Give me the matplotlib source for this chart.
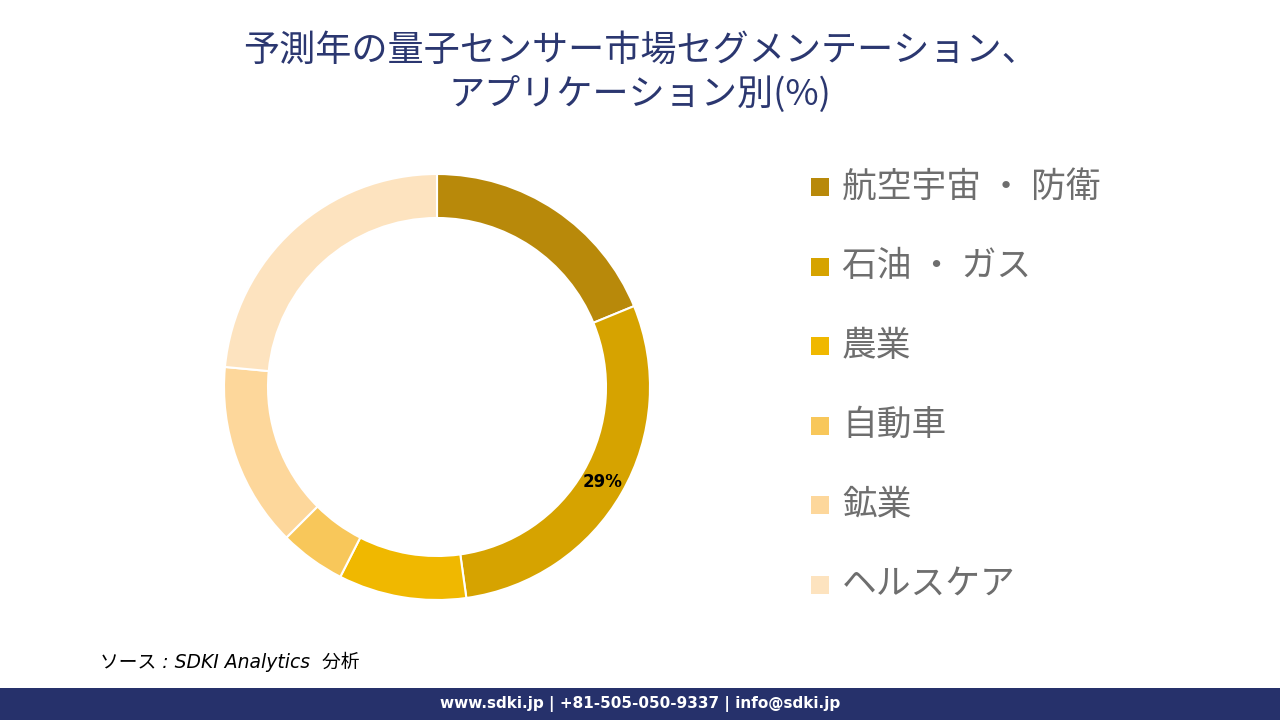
import numpy as np
import matplotlib.pyplot as plt
from matplotlib.patches import Rectangle

plt.rcParams['font.family'] = ['Noto Sans CJK JP', 'DejaVu Sans']

# data
categories = ['航空宇宙・防衛', '石油・ガス', '農業', '自動車', '鉱業', 'ヘルスケア']
legend_labels = ['航空宇宙 ・ 防衛', '石油 ・ ガス', '農業', '自動車', '鉱業', 'ヘルスケア']
shares = [18.8, 29, 9.7, 5, 14, 23.5]
colors = ['#B8890A', '#D6A300', '#F0B800', '#F8C75A', '#FDD79B', '#FDE3BF']
shown_label = '石油・ガス'

title_text = '予測年の量子センサー市場セグメンテーション、\nアプリケーション別(%)'
source_text = 'ソース : SDKI Analytics  分析'
footer_text = 'www.sdki.jp | +81-505-050-9337 | info@sdki.jp'

W, H = 1280, 720
fig = plt.figure(figsize=(W / 100, H / 100), dpi=100)
fig.patch.set_facecolor('white')

# donut axes: centre (437, 387), outer radius 213 px
cx, cy, r = 437, 387, 213
ax = fig.add_axes([(cx - r) / W, (H - cy - r) / H, 2 * r / W, 2 * r / H])
wedges, _ = ax.pie(shares, colors=colors, startangle=90, counterclock=False,
                   radius=1.0, wedgeprops=dict(width=44 / 213, edgecolor='white', linewidth=1.5))
ax.set_xlim(-1, 1)
ax.set_ylim(-1, 1)
ax.set_aspect('equal')
ax.axis('off')

# percentage label only on the oil & gas slice
total = sum(shares)
start = 90.0
for cat, val in zip(categories, shares):
    mid = start - val / total * 360 / 2
    if cat == shown_label:
        rr = 0.895
        ax.text(rr * np.cos(np.radians(mid)), rr * np.sin(np.radians(mid)),
                f'{val:.0f}%', ha='center', va='center', fontsize=12,
                fontweight='bold', color='black', family=['DejaVu Sans'])
    start -= val / total * 360

# legend drawn manually
leg_y0 = 187
leg_step = 79.5
for i, (lab, col) in enumerate(zip(legend_labels, colors)):
    y = leg_y0 + i * leg_step
    fig.patches.append(Rectangle((811 / W, (H - y - 9) / H), 18 / W, 18 / H,
                                 transform=fig.transFigure, facecolor=col, edgecolor='none'))
    fig.text(842 / W, 1 - y / H, lab, fontsize=25, color='#6E6E6E', va='center', ha='left')

# title
fig.text(0.5, 1 - 73 / H, title_text, ha='center', va='center', fontsize=26,
         color='#2B3770', linespacing=1.25)

# source
fig.text(100 / W, 1 - 662 / H, source_text, ha='left', va='center', fontsize=13.5,
         style='italic', color='black', family=['DejaVu Sans', 'Noto Sans CJK JP'])

# footer bar
fig.patches.append(Rectangle((0, 0), 1, 32 / H, transform=fig.transFigure,
                             facecolor='#26316B', edgecolor='none'))
fig.text(0.5, 16 / H, footer_text, ha='center', va='center', fontsize=11,
         fontweight='bold', color='white', family=['DejaVu Sans'])

fig.savefig('out.png', dpi=100, facecolor='white')
